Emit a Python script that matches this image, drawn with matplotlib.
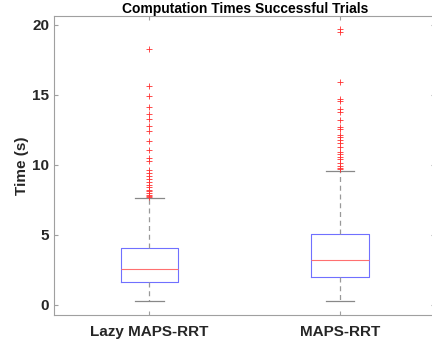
import matplotlib
matplotlib.use('Agg')
from matplotlib import pyplot as plt

# summary statistics of the computation times (seconds)
labels = ['Lazy MAPS-RRT', 'MAPS-RRT']
medians = [2.56, 3.19]
q1 = [1.61, 1.95]
q3 = [4.02, 5.02]
whisker_low = [0.23, 0.25]
whisker_high = [7.62, 9.58]
outliers_lazy = [18.25, 15.62, 14.95, 14.11, 13.64, 13.26, 12.78, 12.44, 11.70,
                 11.03, 10.45, 10.25, 9.60, 9.42, 9.20, 9.00, 8.75, 8.56, 8.40,
                 8.20, 8.10, 7.98, 7.85, 7.75, 7.70]
outliers_maps = [19.72, 19.50, 15.91, 14.69, 14.57, 14.02, 13.78, 13.21, 12.68,
                 12.54, 12.13, 11.97, 11.78, 11.58, 11.30, 10.94, 10.75, 10.58,
                 10.39, 10.11, 9.91, 9.75, 9.68]
outliers = [outliers_lazy, outliers_maps]

stats = []
for i in range(len(labels)):
    stats.append({
        'label': labels[i],
        'med': medians[i],
        'q1': q1[i],
        'q3': q3[i],
        'whislo': whisker_low[i],
        'whishi': whisker_high[i],
        'fliers': outliers[i],
    })

plt.rcParams['font.family'] = ['Liberation Sans', 'DejaVu Sans']
plt.rcParams['font.weight'] = 'bold'

fig = plt.figure(figsize=(4.32, 3.45), dpi=100)
ax = fig.add_axes([0.125, 0.087, 0.883, 0.867])

ax.bxp(stats, widths=0.3, showfliers=True,
       boxprops=dict(color='#7070ff', linewidth=0.8),
       medianprops=dict(color='#ff7070', linewidth=0.8),
       whiskerprops=dict(color='#999999', linewidth=0.9, linestyle=(0, (4, 3))),
       capprops=dict(color='#888888', linewidth=0.9),
       flierprops=dict(marker='+', markeredgecolor='#ff3030', markersize=5,
                       markeredgewidth=0.6, linestyle='none'))

ax.set_xlim(0.5, 2.5)
ax.set_ylim(-0.75, 20.65)
ax.set_yticks([0, 5, 10, 15, 20])

for side in ['left', 'right', 'top', 'bottom']:
    ax.spines[side].set_color('#a0a0a0')
    ax.spines[side].set_linewidth(0.8)
ax.tick_params(direction='in', top=True, right=True, length=3,
               color='#a0a0a0', labelsize=11, labelcolor='#262626')
ax.tick_params(axis='x', pad=7)
for lbl in ax.get_xticklabels() + ax.get_yticklabels():
    lbl.set_fontweight('bold')

ax.set_ylabel('Time (s)', fontsize=11, fontweight='bold', color='#262626',
              labelpad=2)
ax.set_title('Computation Times Successful Trials', fontsize=10,
             fontweight='bold', pad=2)

fig.savefig('out.png', dpi=100)
